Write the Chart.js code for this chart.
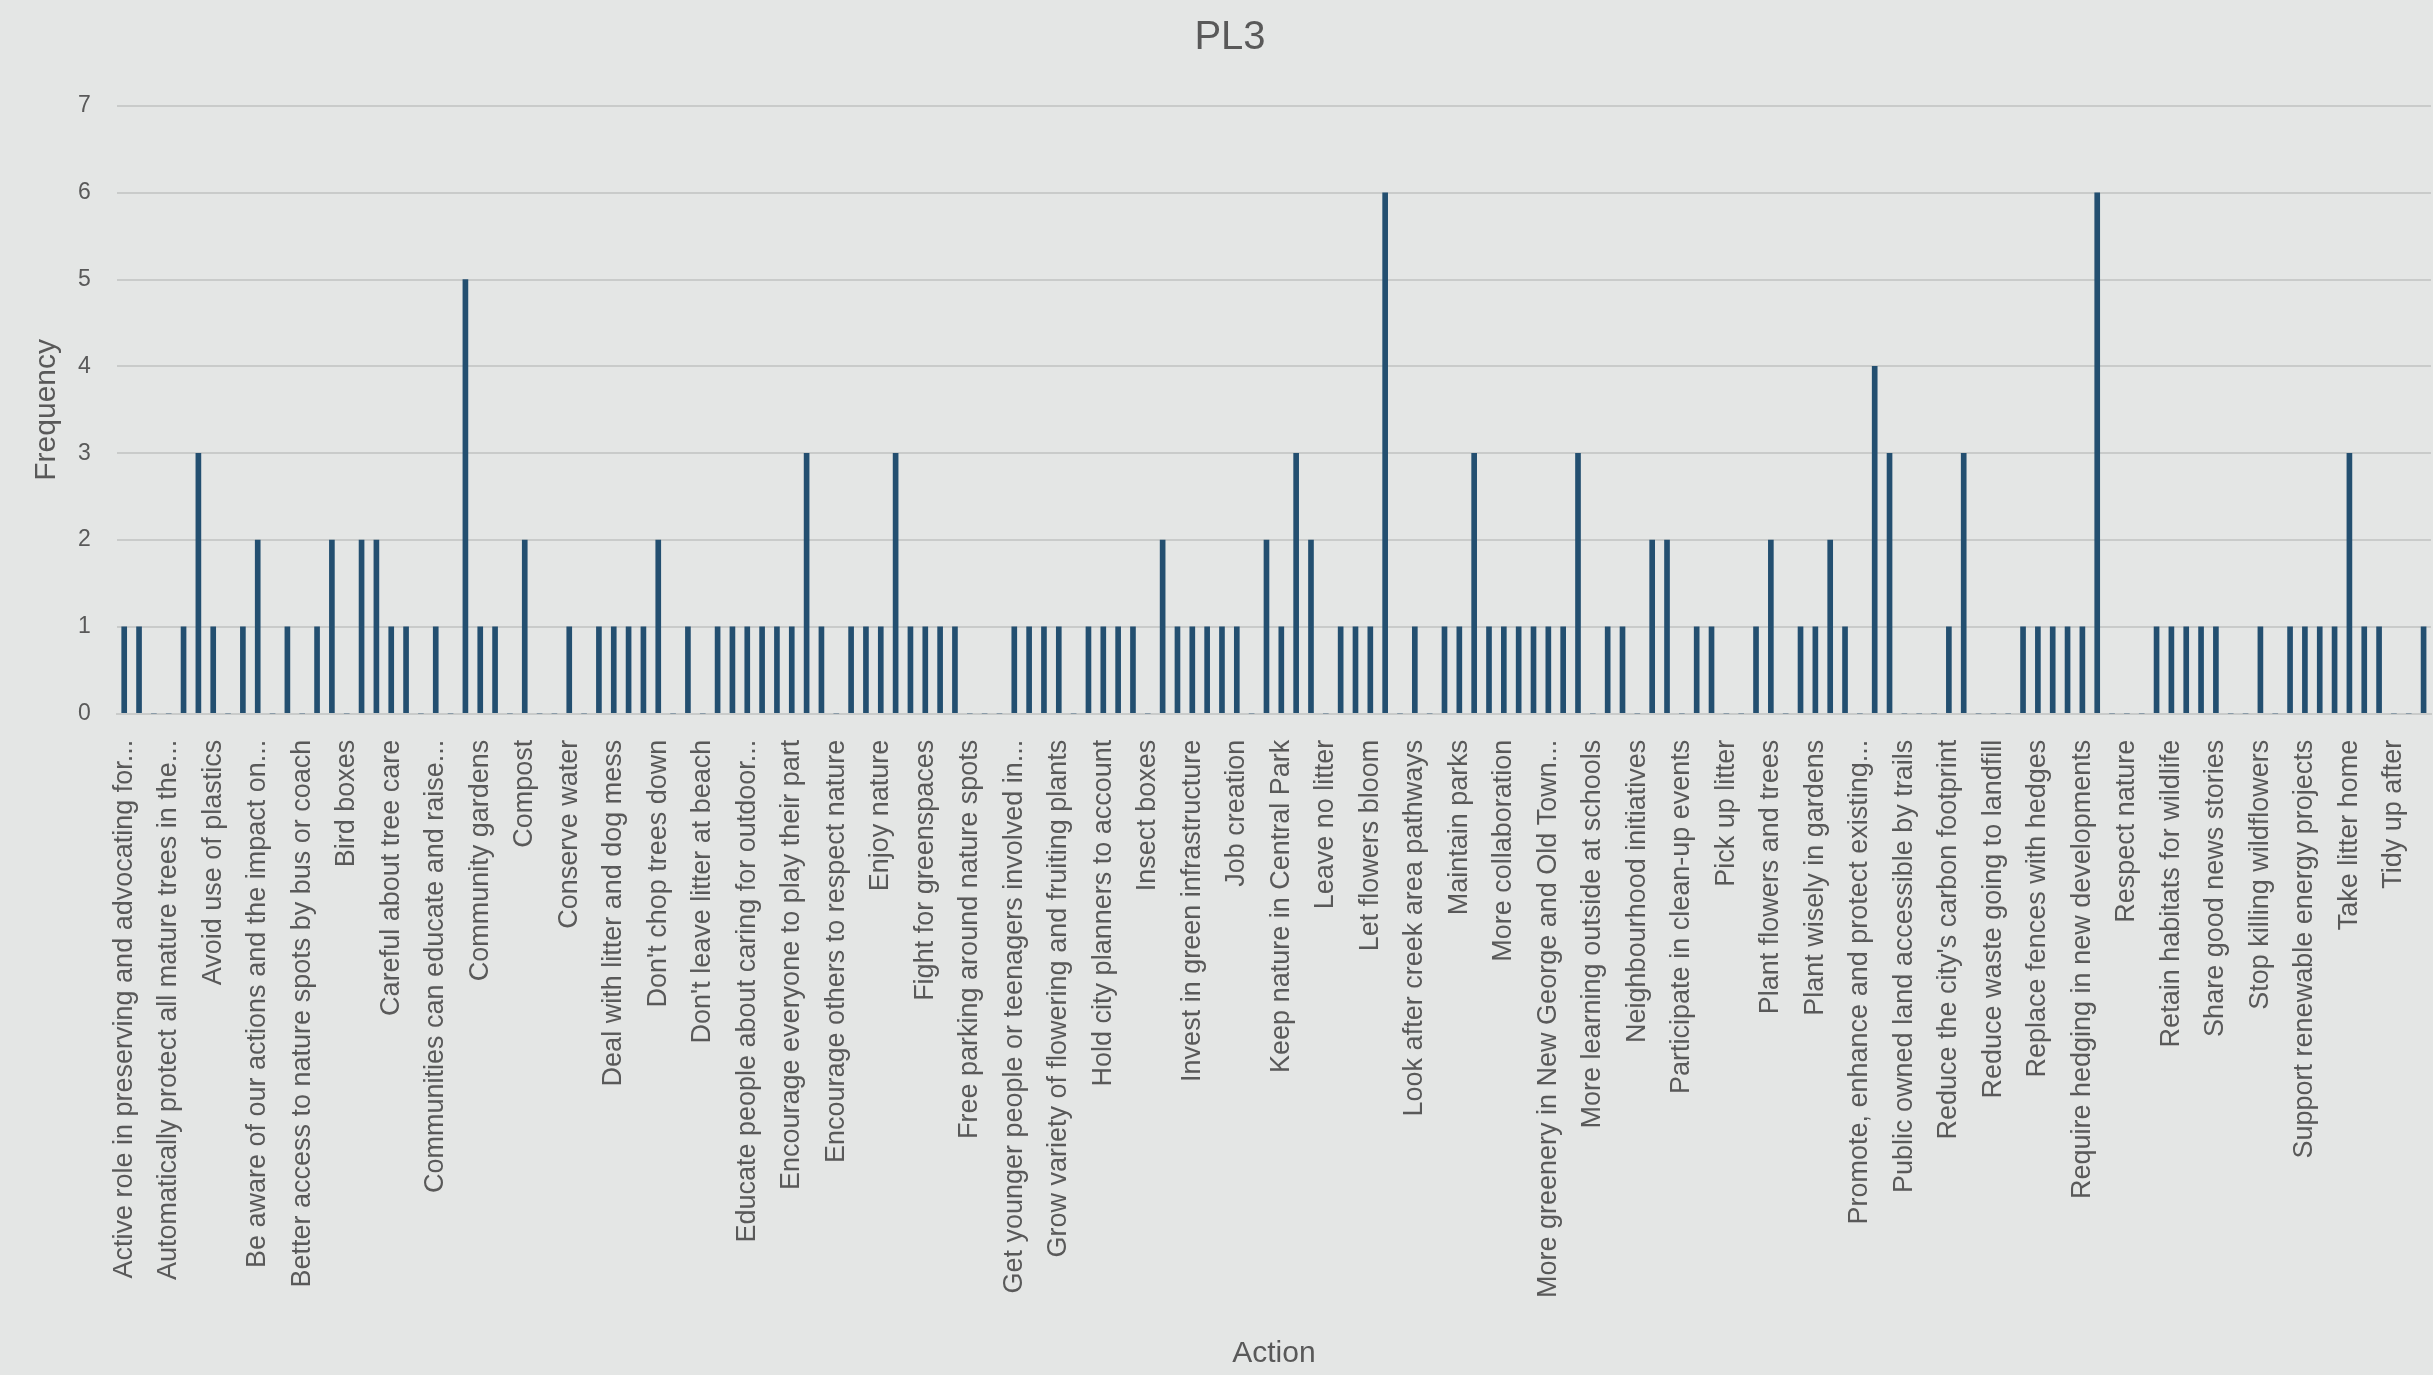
<!DOCTYPE html>
<html>
<head>
<meta charset="utf-8">
<title>PL3</title>
<script src="https://cdn.jsdelivr.net/npm/chart.js@4.4.1/dist/chart.umd.min.js"></script>
<style>
  html, body { margin: 0; padding: 0; background: #e4e6e5; }
  #wrap { width: 2433px; height: 1375px; position: relative; }
</style>
</head>
<body>
<div id="wrap"><canvas id="chart"></canvas></div>
<script>
// every third action name is printed on the axis (the others are hidden in the source)
const shownLabels = [
  'Active role in preserving and advocating for...',
  'Automatically protect all mature trees in the...',
  'Avoid use of plastics',
  'Be aware of our actions and the impact on...',
  'Better access to nature spots by bus or coach',
  'Bird boxes',
  'Careful about tree care',
  'Communities can educate and raise...',
  'Community gardens',
  'Compost',
  'Conserve water',
  'Deal with litter and dog mess',
  "Don't chop trees down",
  "Don't leave litter at beach",
  'Educate people about caring for outdoor...',
  'Encourage everyone to play their part',
  'Encourage others to respect nature',
  'Enjoy nature',
  'Fight for greenspaces',
  'Free parking around nature spots',
  'Get younger people or teenagers involved in...',
  'Grow variety of flowering and fruiting plants',
  'Hold city planners to account',
  'Insect boxes',
  'Invest in green infrastructure',
  'Job creation',
  'Keep nature in Central Park',
  'Leave no litter',
  'Let flowers bloom',
  'Look after creek area pathways',
  'Maintain parks',
  'More collaboration',
  'More greenery in New George and Old Town...',
  'More learning outside at schools',
  'Neighbourhood initiatives',
  'Participate in clean-up events',
  'Pick up litter',
  'Plant flowers and trees',
  'Plant wisely in gardens',
  'Promote, enhance and protect existing...',
  'Public owned land accessible by trails',
  "Reduce the city's carbon footprint",
  'Reduce waste going to landfill',
  'Replace fences with hedges',
  'Require hedging in new developments',
  'Respect nature',
  'Retain habitats for wildlife',
  'Share good news stories',
  'Stop killing wildflowers',
  'Support renewable energy projects',
  'Take litter home',
  'Tidy up after'
];
const labelStep = 3;

// frequency for each of the 156 actions, left to right
const frequency = [
  1, 1, 0, 0, 1, 3, 1, 0, 1, 2, 0, 1,
  0, 1, 2, 0, 2, 2, 1, 1, 0, 1, 0, 5,
  1, 1, 0, 2, 0, 0, 1, 0, 1, 1, 1, 1,
  2, 0, 1, 0, 1, 1, 1, 1, 1, 1, 3, 1,
  0, 1, 1, 1, 3, 1, 1, 1, 1, 0, 0, 0,
  1, 1, 1, 1, 0, 1, 1, 1, 1, 0, 2, 1,
  1, 1, 1, 1, 0, 2, 1, 3, 2, 0, 1, 1,
  1, 6, 0, 1, 0, 1, 1, 3, 1, 1, 1, 1,
  1, 1, 3, 0, 1, 1, 0, 2, 2, 0, 1, 1,
  0, 0, 1, 2, 0, 1, 1, 2, 1, 0, 4, 3,
  0, 0, 0, 1, 3, 0, 0, 0, 1, 1, 1, 1,
  1, 6, 0, 0, 0, 1, 1, 1, 1, 1, 0, 0,
  1, 0, 1, 1, 1, 1, 3, 1, 1, 0, 0, 1
];

const yTicks = [0, 1, 2, 3, 4, 5, 6, 7];

const categories = frequency.map((v, i) =>
  i % labelStep === 0 ? shownLabels[i / labelStep] : '');

const textColor = '#595959';
const gridColor = '#c9cbca';

const ctx = document.getElementById('chart').getContext('2d');
const chart = new Chart(ctx, {
  type: 'bar',
  data: {
    labels: categories,
    datasets: [{
      label: 'Frequency',
      data: frequency,
      backgroundColor: '#234f70',
      borderWidth: 0,
      barThickness: 5
    }]
  },
  options: {
    responsive: true,
    maintainAspectRatio: false,
    animation: false,
    layout: { padding: { top: 10, left: 29, right: 2, bottom: 3 } },
    plugins: {
      legend: { display: false },
      tooltip: { enabled: false },
      title: {
        display: true,
        text: 'PL3',
        color: textColor,
        font: { family: 'Liberation Sans', size: 40, weight: 'normal' },
        padding: { top: 4, bottom: 44 }
      }
    },
    scales: {
      x: {
        grid: { display: false },
        border: { display: true, color: gridColor, width: 2 },
        ticks: {
          autoSkip: false,
          minRotation: 90,
          maxRotation: 90,
          color: textColor,
          padding: 18,
          font: { family: 'Liberation Sans', size: 27 }
        },
        title: {
          display: true,
          text: 'Action',
          color: textColor,
          font: { family: 'Liberation Sans', size: 30 },
          padding: { top: 20, bottom: 0 }
        },
        // let the bars run right up to the edges like the original
        afterFit: scale => { scale.paddingLeft = 0; scale.paddingRight = 0; }
      },
      y: {
        min: yTicks[0],
        max: yTicks[yTicks.length - 1],
        afterBuildTicks: scale => { scale.ticks = yTicks.map(v => ({ value: v })); },
        grid: { color: gridColor, lineWidth: 2, drawTicks: false },
        border: { display: false },
        ticks: {
          color: textColor,
          padding: 26,
          font: { family: 'Liberation Sans', size: 23 }
        },
        title: {
          display: true,
          text: 'Frequency',
          color: textColor,
          font: { family: 'Liberation Sans', size: 30 },
          padding: { top: 0, bottom: -13 }
        }
      }
    }
  }
});
</script>
</body>
</html>
